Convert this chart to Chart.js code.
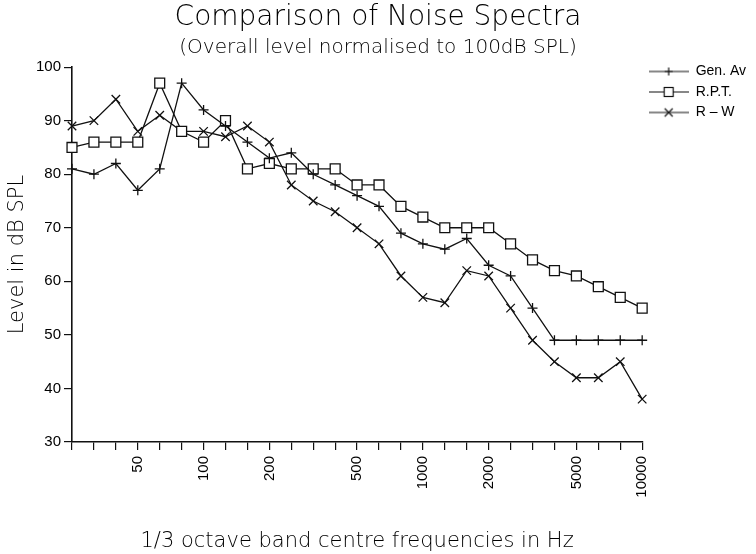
<!DOCTYPE html>
<html>
<head>
<meta charset="utf-8">
<script src="https://cdn.jsdelivr.net/npm/chart.js@4/dist/chart.umd.min.js"></script>
<style>
  body { margin: 0; background: #fff; }
  canvas { display: block; }
</style>
</head>
<body>
<canvas id="noiseCanvas" width="756" height="554"></canvas>
<script>
// 1/3 octave band centres (Hz)
const bands = ['25', '31.5', '40', '50', '63', '80', '100', '125', '160', '200', '250', '315', '400',
    '500', '630', '800', '1000', '1250', '1600', '2000', '2500', '3150', '4000', '5000', '6300', '8000', '10000'];
const labelledBands = ['50', '100', '200', '500', '1000', '2000', '5000', '10000'];

// levels in dB SPL
const genAv = [81, 80, 82, 77, 81, 97, 92, 89, 86, 83, 84, 80, 78, 76, 74, 69, 67, 66, 68, 63, 61, 55, 49, 49, 49, 49, 49];
const rpt = [85, 86, 86, 86, 97, 88, 86, 90, 81, 82, 81, 81, 81, 78, 78, 74, 72, 70, 70, 70, 67, 64, 62, 61, 59, 57, 55];
const rw = [89, 90, 94, 88, 91, 88, 88, 87, 89, 86, 78, 75, 73, 70, 67, 61, 57, 56, 62, 61, 55, 49, 45, 42, 42, 45, 38];

const ink = '#111';
const thinFont = 'DejaVu Sans';
const tickFont = 'Liberation Sans';

// little line + marker pictures for the legend
function legendIcon(marker) {
    const c = document.createElement('canvas');
    c.width = 40;
    c.height = 14;
    const g = c.getContext('2d');
    g.strokeStyle = ink;
    g.lineWidth = 1.2;
    g.beginPath();
    g.moveTo(0, 7);
    g.lineTo(40, 7);
    g.stroke();
    g.beginPath();
    if (marker === 'cross') {
        g.moveTo(20, 3); g.lineTo(20, 11);
        g.moveTo(16, 7); g.lineTo(24, 7);
        g.stroke();
    } else if (marker === 'rect') {
        g.fillStyle = '#fff';
        g.fillRect(15.5, 2.5, 9, 9);
        g.strokeRect(15.5, 2.5, 9, 9);
    } else {
        g.moveTo(16, 3); g.lineTo(24, 11);
        g.moveTo(24, 3); g.lineTo(16, 11);
        g.stroke();
    }
    return c;
}

const icons = [legendIcon('cross'), legendIcon('rect'), legendIcon('crossRot')];

const ctx = document.getElementById('noiseCanvas').getContext('2d');

new Chart(ctx, {
    type: 'line',
    data: {
        labels: bands,
        datasets: [
            {
                label: 'Gen. Av',
                data: genAv,
                pointStyle: 'cross',
                pointRadius: 5
            },
            {
                label: 'R.P.T.',
                data: rpt,
                pointStyle: 'rect',
                pointRadius: 7,
                pointBackgroundColor: '#fff'
            },
            {
                label: 'R \u2013 W',
                data: rw,
                pointStyle: 'crossRot',
                pointRadius: 6
            }
        ]
    },
    options: {
        responsive: false,
        animation: false,
        layout: { padding: 0 },
        elements: {
            line: { borderColor: ink, borderWidth: 1.3, tension: 0, fill: false },
            point: { borderColor: ink, backgroundColor: ink, borderWidth: 1.3, hoverRadius: 6 }
        },
        scales: {
            x: {
                type: 'category',
                afterFit: (scale) => { scale.height = 112; },
                grid: { drawOnChartArea: false, tickLength: 8, color: ink, lineWidth: 1.2 },
                border: { color: ink, width: 1.6 },
                ticks: {
                    autoSkip: false,
                    minRotation: 90,
                    maxRotation: 90,
                    padding: 6,
                    color: '#000',
                    font: { family: tickFont, size: 15 },
                    callback: (val, i) => labelledBands.includes(bands[i]) ? bands[i] : ''
                },
                title: {
                    display: true,
                    text: '1/3 octave band centre frequencies in Hz',
                    color: '#000',
                    font: { family: thinFont, size: 21, weight: 200 },
                    padding: { top: 0, bottom: 0 }
                }
            },
            y: {
                min: 30,
                max: 100,
                afterFit: (scale) => { scale.width = 72; },
                grid: { drawOnChartArea: false, tickLength: 8, color: ink, lineWidth: 1.2 },
                border: { color: ink, width: 1.6 },
                ticks: {
                    stepSize: 10,
                    padding: 3,
                    color: '#000',
                    font: { family: tickFont, size: 15 }
                },
                title: {
                    display: true,
                    text: 'Level in dB SPL',
                    color: '#000',
                    font: { family: thinFont, size: 21, weight: 200 },
                    padding: { top: 5, bottom: 0 }
                }
            }
        },
        plugins: {
            title: {
                display: true,
                text: 'Comparison of Noise Spectra',
                color: '#000',
                font: { family: thinFont, size: 28, weight: 200 },
                padding: { top: 1, bottom: 1 }
            },
            subtitle: {
                display: true,
                text: '(Overall level normalised to 100dB SPL)',
                color: '#000',
                font: { family: thinFont, size: 20, weight: 200 },
                padding: { top: 0, bottom: 7.5 }
            },
            legend: {
                position: 'right',
                align: 'start',
                maxWidth: 119,
                title: {
                    display: true,
                    text: ' ',
                    font: { size: 10 },
                    padding: { top: 46, bottom: 0 }
                },
                labels: {
                    usePointStyle: true,
                    pointStyleWidth: 40,
                    padding: 6.5,
                    color: '#000',
                    font: { family: tickFont, size: 14 },
                    generateLabels: (chart) => chart.data.datasets.map((ds, i) => ({
                        text: ds.label,
                        pointStyle: icons[i],
                        fillStyle: '#fff',
                        strokeStyle: ink,
                        lineWidth: 0,
                        fontColor: '#000',
                        datasetIndex: i
                    }))
                }
            },
            tooltip: { enabled: false }
        }
    }
});
</script>
</body>
</html>
